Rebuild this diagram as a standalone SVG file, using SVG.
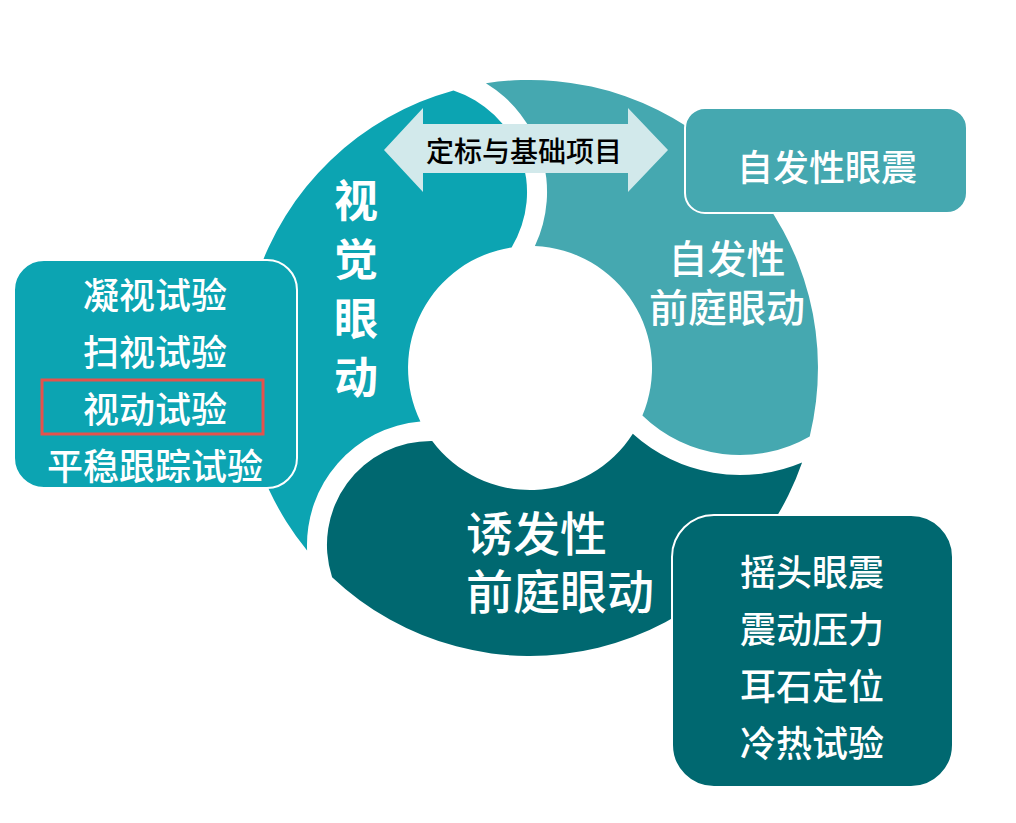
<svg xmlns="http://www.w3.org/2000/svg" width="1016" height="823" viewBox="0 0 1016 823">
<style>
.t{font-family:"Noto Sans CJK SC","Noto Sans",sans-serif;font-weight:500;fill:#ffffff;text-anchor:middle}
.b{font-weight:700}
.box{stroke:#ffffff;stroke-width:2}
</style>
<rect width="1016" height="823" fill="#ffffff"/>
<g id="seg-visual">
<path d="M307.1 550.4 A288 288 0 0 1 453.5 90.4 A107 107 0 0 1 511.6 247.4 A122 122 0 0 0 420.4 421.5 A124 124 0 0 0 307.1 550.4 Z" fill="#0ca4b2"/>
<text class="t b" font-size="44" x="356" y="216.7">视</text>
<text class="t b" font-size="44" x="356" y="275.7">觉</text>
<text class="t b" font-size="44" x="356" y="334.7">眼</text>
<text class="t b" font-size="44" x="356" y="393.7">动</text>
</g>
<g id="seg-spont">
<path d="M485.9 83.3 A288 288 0 0 1 809.7 436.4 A140 140 0 0 1 642.4 415.5 A122 122 0 0 0 534.9 246.1 A127 127 0 0 0 485.9 83.3 Z" fill="#45a8b0"/>
<text class="t" font-size="39" x="727" y="272.8">自发性</text>
<text class="t" font-size="39" x="727" y="321.8">前庭眼动</text>
</g>
<g id="seg-induced">
<path d="M802.1 462.4 A288 288 0 0 1 332.1 577.2 A104 104 0 0 1 432.2 440.9 A122 122 0 0 0 632.8 433.8 A160 160 0 0 0 802.1 462.4 Z" fill="#006870"/>
<text class="t" font-size="47" x="466" y="550.9" style="text-anchor:start">诱发性</text>
<text class="t" font-size="47" x="466" y="608.9" style="text-anchor:start">前庭眼动</text>
</g>
<g id="connectors">
<path d="M384 150 L423 108 L423 124 L628 124 L628 108 L668 150 L628 192 L628 173 L423 173 L423 192 Z" fill="#d2e9eb"/>
<text class="t" font-size="28" x="524" y="161.6" style="fill:#000000">定标与基础项目</text>
</g>
<g id="box-visual">
<rect class="box" x="14" y="260" width="283" height="228" rx="30" fill="#0ca4b2"/>
<text class="t" font-size="36" x="155" y="308.7">凝视试验</text>
<text class="t" font-size="36" x="155" y="365.7">扫视试验</text>
<text class="t" font-size="36" x="155" y="422.7">视动试验</text>
<text class="t" font-size="36" x="155" y="479.7">平稳跟踪试验</text>
<rect x="42" y="380" width="221" height="54" fill="none" stroke="#e5524c" stroke-width="3"/>
</g>
<g id="box-spont">
<rect class="box" x="685" y="108" width="282" height="105" rx="20" fill="#45a8b0"/>
<text class="t" font-size="36" x="827" y="180.7">自发性眼震</text>
</g>
<g id="box-induced">
<rect class="box" x="672" y="515" width="281" height="272" rx="42" fill="#006870"/>
<text class="t" font-size="36" x="812" y="585.7">摇头眼震</text>
<text class="t" font-size="36" x="812" y="642.7">震动压力</text>
<text class="t" font-size="36" x="812" y="699.7">耳石定位</text>
<text class="t" font-size="36" x="812" y="756.7">冷热试验</text>
</g>
</svg>
